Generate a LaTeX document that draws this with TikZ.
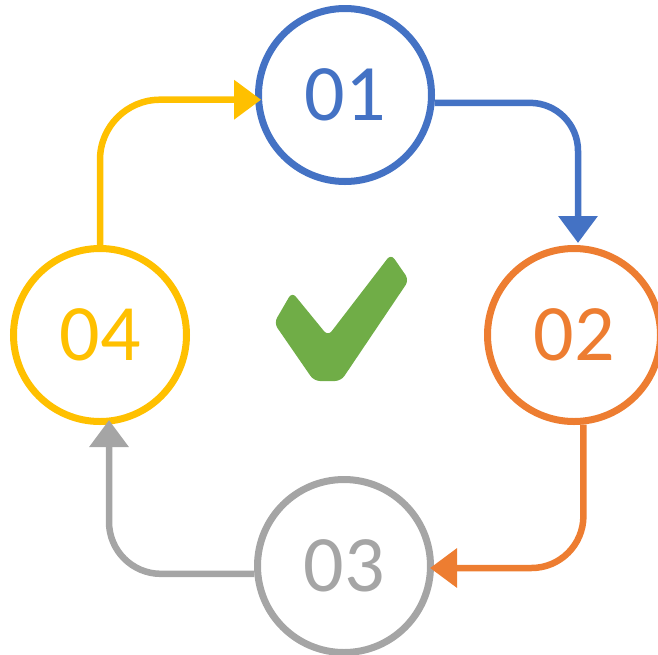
\documentclass[tikz,border=0pt]{standalone}
\usepackage{fontspec}
\setmainfont{Carlito}
\usetikzlibrary{arrows.meta}
\definecolor{cblue}{HTML}{4472C4}
\definecolor{corange}{HTML}{ED7D31}
\definecolor{cgray}{HTML}{A5A5A5}
\definecolor{cyellow}{HTML}{FFC000}
\definecolor{cgreen}{HTML}{70AD47}
\begin{document}
\begin{tikzpicture}[x=1pt,y=-1pt,
  stepcircle/.style={circle,draw=#1,line width=7pt,minimum size=173pt,inner sep=0pt,text=#1,font=\fontsize{80}{96}\selectfont},
  link/.style={draw=#1,line width=6.5pt,-{Triangle[length=27pt,width=38pt]},rounded corners=52pt}]
\useasboundingbox (0,0) rectangle (658,654);
\node[stepcircle=cblue] (c1) at (345,95) {01};
\node[stepcircle=corange] (c2) at (574,335) {02};
\node[stepcircle=cgray] (c3) at (344,566) {03};
\node[stepcircle=cyellow] (c4) at (100,335) {04};
\draw[link=cblue,rounded corners=48pt] (c1.-5) -| ([xshift=4pt,yshift=2pt]c2.north);
\draw[link=corange] (c2.-84) |- ([xshift=-4pt,yshift=-2pt]c3.east);
\draw[link=cgray] (c3.185) -| ([xshift=9pt,yshift=5pt]c4.south);
\draw[link=cyellow,rounded corners=60pt] (c4.north) |- ([xshift=6pt]c1.183);
\fill[cgreen,rounded corners=6pt] (292,292) -- (328,336) -- (391,254) -- (409,280) -- (341,381) -- (314,381) -- (274,323) -- cycle;
\end{tikzpicture}
\end{document}
